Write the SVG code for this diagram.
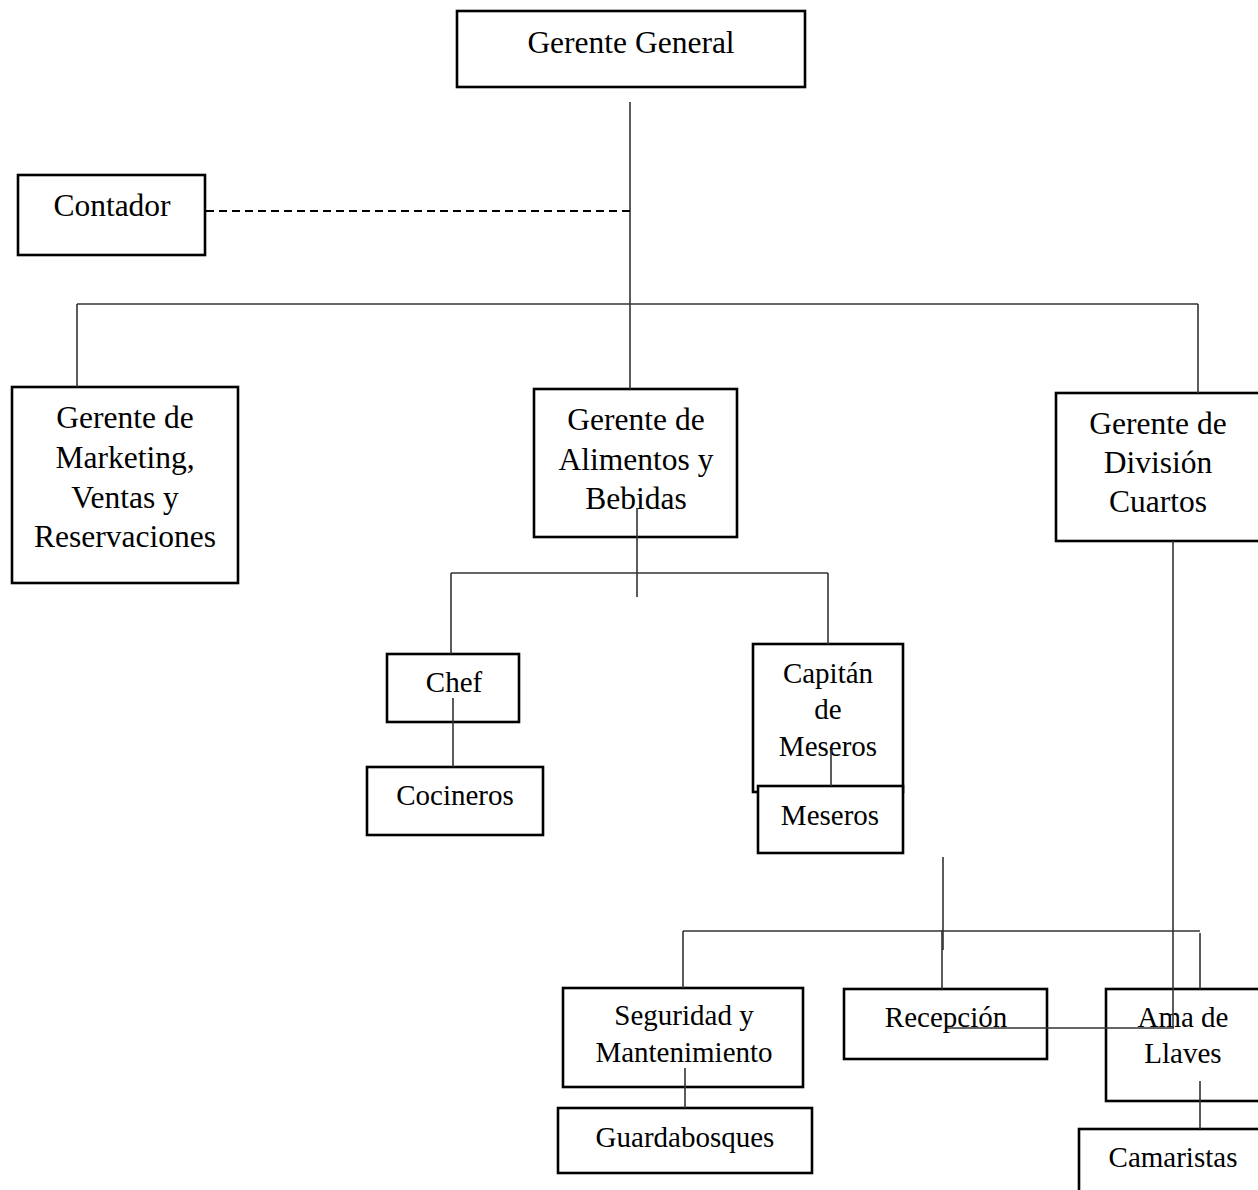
<svg xmlns="http://www.w3.org/2000/svg" width="1258" height="1190" viewBox="0 0 1258 1190">
<style>
.box{fill:#fff;stroke:#000;stroke-width:2.6}
.t{font-family:"Liberation Serif","Times New Roman",serif;font-size:31.5px;fill:#000;text-anchor:middle}
.s{font-size:29px}
.c{fill:none;stroke:#333;stroke-width:1.6}
.d{stroke:#000;stroke-width:2;stroke-dasharray:8 5}
</style>
<rect width="1258" height="1190" fill="#fff"/>
<g id="gerente-general"><rect class="box" x="457" y="11" width="348" height="76"/><text class="t" x="631" y="53">Gerente General</text></g>
<g id="contador"><rect class="box" x="18" y="175" width="187" height="80"/><text class="t" x="112" y="216">Contador</text></g>
<g id="marketing"><rect class="box" x="12" y="387" width="226" height="196"/><text class="t" x="125" y="428">Gerente de</text><text class="t" x="125" y="468">Marketing,</text><text class="t" x="125" y="508">Ventas y</text><text class="t" x="125" y="547">Reservaciones</text></g>
<g id="alimentos"><rect class="box" x="534" y="389" width="203" height="148"/><text class="t" x="636" y="430">Gerente de</text><text class="t" x="636" y="470">Alimentos y</text><text class="t" x="636" y="509">Bebidas</text></g>
<g id="division-cuartos"><rect class="box" x="1056" y="393" width="210" height="148"/><text class="t" x="1158" y="434">Gerente de</text><text class="t" x="1158" y="473">División</text><text class="t" x="1158" y="512">Cuartos</text></g>
<g id="chef"><rect class="box" x="387" y="654" width="132" height="68"/><text class="t s" x="454" y="692">Chef</text></g>
<g id="cocineros"><rect class="box" x="367" y="767" width="176" height="68"/><text class="t s" x="455" y="805">Cocineros</text></g>
<g id="capitan"><rect class="box" x="753" y="644" width="150" height="148"/><text class="t s" x="828" y="683">Capitán</text><text class="t s" x="828" y="719">de</text><text class="t s" x="828" y="756">Meseros</text></g>
<g id="meseros"><rect class="box" x="758" y="786" width="145" height="67"/><text class="t s" x="830" y="825">Meseros</text></g>
<g id="seguridad"><rect class="box" x="563" y="988" width="240" height="99"/><text class="t s" x="684" y="1025">Seguridad y</text><text class="t s" x="684" y="1062">Mantenimiento</text></g>
<g id="guardabosques"><rect class="box" x="558" y="1108" width="254" height="65"/><text class="t s" x="685" y="1147">Guardabosques</text></g>
<g id="recepcion"><rect class="box" x="844" y="989" width="203" height="70"/><text class="t s" x="946" y="1027">Recepción</text></g>
<g id="ama-de-llaves"><rect class="box" x="1106" y="989" width="160" height="112"/><text class="t s" x="1183" y="1027">Ama de</text><text class="t s" x="1183" y="1063">Llaves</text></g>
<g id="camaristas"><rect class="box" x="1079" y="1129" width="190" height="80"/><text class="t s" x="1173" y="1167">Camaristas</text></g>
<g id="connectors">
<line class="c" x1="630" y1="102" x2="630" y2="389"/>
<line class="c d" x1="206" y1="211" x2="630" y2="211"/>
<line class="c" x1="77" y1="304" x2="1198" y2="304"/>
<line class="c" x1="77" y1="304" x2="77" y2="387"/>
<line class="c" x1="1198" y1="304" x2="1198" y2="393"/>
<line class="c" x1="637" y1="508" x2="637" y2="597"/>
<line class="c" x1="451" y1="573" x2="828" y2="573"/>
<line class="c" x1="451" y1="573" x2="451" y2="654"/>
<line class="c" x1="828" y1="573" x2="828" y2="644"/>
<line class="c" x1="453" y1="698" x2="453" y2="767"/>
<line class="c" x1="831" y1="750" x2="831" y2="786"/>
<line class="c" x1="1173" y1="541" x2="1173" y2="1028"/>
<line class="c" x1="947" y1="1028" x2="1174" y2="1028"/>
<line class="c" x1="943" y1="857" x2="943" y2="950"/>
<line class="c" x1="942" y1="930" x2="942" y2="989"/>
<line class="c" x1="683" y1="931" x2="1200" y2="931"/>
<line class="c" x1="683" y1="931" x2="683" y2="988"/>
<line class="c" x1="1200" y1="933" x2="1200" y2="989"/>
<line class="c" x1="685" y1="1068" x2="685" y2="1108"/>
<line class="c" x1="1200" y1="1081" x2="1200" y2="1129"/>
</g>
</svg>
